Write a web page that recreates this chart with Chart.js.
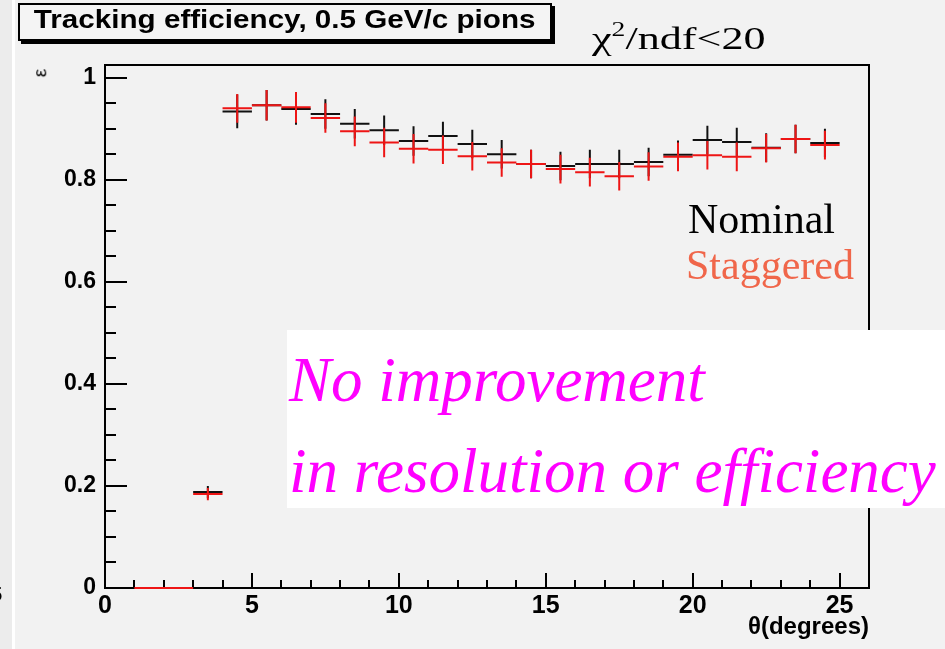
<!DOCTYPE html>
<html>
<head>
<meta charset="utf-8">
<script src="https://cdn.jsdelivr.net/npm/chart.js@4.4.1/dist/chart.umd.min.js"></script>
<style>
  html, body { margin: 0; padding: 0; background: #f2f2f2; width: 945px; height: 649px; overflow: hidden; }
  #wrap { position: relative; width: 945px; height: 649px; }
  canvas { position: absolute; left: 0; top: 0; }
  .abs { position: absolute; white-space: nowrap; }
  #leftstrip { position: absolute; left: 0; top: 0; width: 12px; height: 649px; background: #ececec; border-right: 3px solid #ffffff; }
  #titlebox { left: 18px; top: 3px; width: 530px; height: 34px; border: 2px solid #000; box-shadow: 3px 3px 0 #000; background: #f4f4f4;
              text-align: center; line-height: 34px; color: #000; }
  #titlebox span { display: inline-block; font: bold 25px "Liberation Sans", Arial, sans-serif; transform: scaleX(1.185); transform-origin: center; }
  #chi { left: 592px; top: 20px; font: 32px "Liberation Serif", "Times New Roman", serif; color: #000; transform: scaleX(1.38); transform-origin: left top; }
  #chi sup { font-size: 20px; vertical-align: 13px; line-height: 0; }
  #nom { left: 688px; top: 195px; font: 42px "Liberation Serif", "Times New Roman", serif; color: #000; }
  #stag { left: 686px; top: 241px; font: 42px "Liberation Serif", "Times New Roman", serif; color: #f0664a; }
  #note { left: 287px; top: 330px; width: 658px; height: 178px; background: #ffffff; }
  #note div { position: absolute; left: 2px; font: italic 63px "Liberation Serif", "Times New Roman", serif; color: #ff00ff; white-space: nowrap; }
  #eps { left: 36px; top: 62px; font: 19px "Liberation Sans", Arial, sans-serif; transform: rotate(-90deg); transform-origin: center; color: #000; }
  #xtitle { right: 76px; top: 612px; font: bold 24px "Liberation Sans Narrow", "Liberation Sans", Arial, sans-serif; color: #000; }
  #frag { left: -9px; top: 583px; font: bold 20px "Liberation Sans", Arial, sans-serif; color: #000; }
</style>
</head>
<body>
<div id="wrap">
  <div id="leftstrip"></div>
  <canvas id="c" width="945" height="649"></canvas>
  <div class="abs" id="frag">5</div>
  <div class="abs" id="titlebox"><span>Tracking efficiency, 0.5 GeV/c pions</span></div>
  <div class="abs" id="chi">χ<sup>2</sup>/ndf&lt;20</div>
  <div class="abs" id="eps">ε</div>
  <div class="abs" id="nom">Nominal</div>
  <div class="abs" id="stag">Staggered</div>
  <div class="abs" id="xtitle">θ(degrees)</div>
  <div class="abs" id="note">
    <div style="top:14px">No improvement</div>
    <div style="top:105px">in resolution or efficiency</div>
  </div>
</div>
<script>
// ---- data (bins of 1 degree) ----
const thetaLow  = [1, 2, 3, 4, 5, 6, 7, 8, 9, 10, 11, 12, 13, 14, 15, 16, 17, 18, 19, 20, 21, 22, 23, 24];
const thetaHigh = [2, 3, 4, 5, 6, 7, 8, 9, 10, 11, 12, 13, 14, 15, 16, 17, 18, 19, 20, 21, 22, 23, 24, 25];
const nominal      = [0, 0, 0.188, 0.934, 0.946, 0.939, 0.929, 0.910, 0.897, 0.876, 0.886, 0.870, 0.850, 0.831, 0.827, 0.831, 0.831, 0.835, 0.849, 0.878, 0.874, 0.863, 0.880, 0.872];
const nominalErr   = [0, 0, 0.012, 0.033, 0.030, 0.031, 0.029, 0.029, 0.029, 0.029, 0.028, 0.028, 0.028, 0.028, 0.028, 0.028, 0.028, 0.028, 0.028, 0.028, 0.028, 0.028, 0.028, 0.028];
const staggered    = [0, 0, 0.184, 0.940, 0.946, 0.942, 0.921, 0.895, 0.873, 0.861, 0.859, 0.846, 0.834, 0.831, 0.821, 0.815, 0.807, 0.826, 0.845, 0.848, 0.845, 0.862, 0.880, 0.868];
const staggeredErr = [0, 0, 0.012, 0.028, 0.030, 0.030, 0.029, 0.029, 0.029, 0.029, 0.028, 0.028, 0.028, 0.028, 0.028, 0.028, 0.028, 0.028, 0.028, 0.028, 0.028, 0.028, 0.028, 0.028];
const xTickLabels = [0, 5, 10, 15, 20, 25];
const yTickLabels = [0, 0.2, 0.4, 0.6, 0.8, 1];

const COL_NOM = '#111111';
const COL_STAG = '#ee1515';

function hSegments(vals) {
  const pts = [];
  vals.forEach((v, i) => {
    pts.push({x: thetaLow[i], y: v}, {x: thetaHigh[i], y: v}, {x: thetaHigh[i], y: null});
  });
  return pts;
}
function vSegments(vals, errs) {
  const pts = [];
  vals.forEach((v, i) => {
    if (errs[i] > 0) {
      const c = (thetaLow[i] + thetaHigh[i]) / 2;
      pts.push({x: c, y: v - errs[i]}, {x: c, y: v + errs[i]}, {x: c, y: null});
    }
  });
  return pts;
}
function ds(label, data, color, order) {
  return { label, data, borderColor: color, backgroundColor: color, borderWidth: 2, order,
           showLine: true, pointRadius: 0, spanGaps: false, tension: 0, clip: 3 };
}

const framePlugin = {
  id: 'rootFrame',
  beforeDatasetsDraw(chart) {
    const {ctx, chartArea: a, scales: {x, y}} = chart;
    ctx.save();
    ctx.strokeStyle = '#000';
    ctx.lineWidth = 2;
    ctx.strokeRect(a.left, a.top, a.right - a.left, a.bottom - a.top);
    ctx.beginPath();
    // x ticks: major every 5, minor every 1
    for (let v = 0; v <= 26; v += 1) {
      const px = Math.round(x.getPixelForValue(v));
      const len = (v % 5 === 0) ? 15 : 8;
      ctx.moveTo(px, a.bottom); ctx.lineTo(px, a.bottom - len);
    }
    // y ticks: major every 0.2, minor every 0.05
    for (let k = 0; k <= 20; k++) {
      const v = k * 0.05;
      const py = Math.round(y.getPixelForValue(v));
      const len = (k % 4 === 0) ? 22 : 11;
      ctx.moveTo(a.left, py); ctx.lineTo(a.left + len, py);
    }
    ctx.stroke();
    ctx.restore();
  }
};

new Chart(document.getElementById('c'), {
  type: 'scatter',
  data: {
    datasets: [
      ds('Staggered', hSegments(staggered), COL_STAG, 0),
      ds('Staggered err', vSegments(staggered, staggeredErr), COL_STAG, 1),
      ds('Nominal', hSegments(nominal), COL_NOM, 2),
      ds('Nominal err', vSegments(nominal, nominalErr), COL_NOM, 3)
    ]
  },
  options: {
    responsive: false,
    animation: false,
    devicePixelRatio: 1,
    layout: { padding: { left: 0, top: 65, right: 76, bottom: 0 } },
    plugins: { legend: { display: false }, tooltip: { enabled: false }, title: { display: false } },
    scales: {
      x: {
        type: 'linear', min: 0, max: 26,
        grid: { display: false, drawTicks: false },
        border: { display: false },
        afterBuildTicks: s => { s.ticks = xTickLabels.map(v => ({value: v})); },
        afterFit: s => { s.height = 61; },
        ticks: { color: '#000', padding: 3, maxRotation: 0, autoSkip: false,
                 font: { family: '"Liberation Sans Narrow", "Liberation Sans", Arial', weight: 'bold', size: 25 } }
      },
      y: {
        type: 'linear', min: 0, max: 1.025,
        grid: { display: false, drawTicks: false },
        border: { display: false },
        afterBuildTicks: s => { s.ticks = yTickLabels.map(v => ({value: v})); },
        afterFit: s => { s.width = 105; },
        ticks: { color: '#000', padding: 9, autoSkip: false,
                 callback: v => String(v),
                 font: { family: '"Liberation Sans", Arial', weight: 'bold', size: 23 } }
      }
    }
  },
  plugins: [framePlugin]
});
</script>
</body>
</html>
